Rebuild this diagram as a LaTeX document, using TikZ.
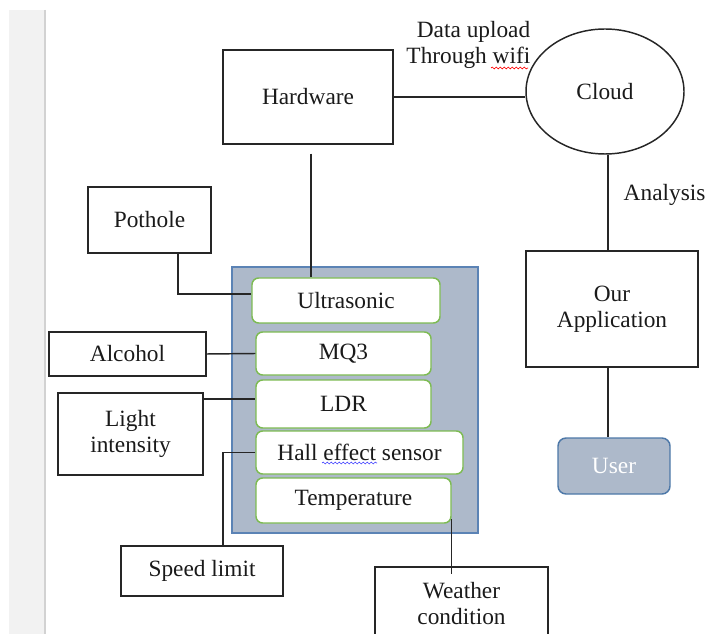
\documentclass[tikz,border=0pt]{standalone}
\usepackage{fontspec}
\setmainfont{Liberation Serif}
\usetikzlibrary{decorations.pathmorphing,shapes.geometric}
\definecolor{panelfill}{HTML}{ADB9CA}
\definecolor{panelline}{HTML}{5B83B5}
\definecolor{userline}{HTML}{4D78A8}
\definecolor{sgreen}{HTML}{7DBB52}
\definecolor{margfill}{HTML}{F2F2F2}
\definecolor{margline}{HTML}{D2D2D2}
\definecolor{txt}{HTML}{1A1A1A}
\begin{document}
\begin{tikzpicture}[x=0.75pt,y=-0.75pt,
  font=\fontsize{17.5}{19.5}\selectfont, text=txt,
  line width=1.1pt,
  plainbox/.style={draw=black!85, rectangle, line width=1.1pt, inner sep=0pt, align=center},
  sensor/.style={draw=sgreen, fill=white, rounded corners=5pt, line width=1.1pt, inner sep=0pt, align=center},
  wire/.style={draw=black!85, line width=1.1pt},
  squig/.style={line width=0.5pt, decorate, decoration={snake, amplitude=0.7pt, segment length=3pt}}]
\useasboundingbox (0,0) rectangle (706,634);
% left margin of the page
\fill[margfill] (9,10) rectangle (45,634);
\draw[margline, line width=1.5pt] (45,10) -- (45,634);

% top row
\node[plainbox, minimum width=127.5pt, minimum height=70.5pt] (hw) at (308,97) {Hardware};
\node[draw=black!85, ellipse, line width=1.1pt, inner sep=0pt, minimum width=118.5pt, minimum height=93.75pt] (cloud) at (605,91.5) {Cloud};
\node[anchor=east, align=right, inner sep=0pt] (upl) at (531,45) {Data upload\\Through wifi};
\draw[red, squig] (491,68) -- (528,68);

% right column
\node[plainbox, minimum width=129pt, minimum height=87pt] (app) at (612,309) {Our\\Application};
\node[draw=userline, fill=panelfill, rounded corners=6pt, line width=1.1pt, minimum width=84pt, minimum height=42pt, inner sep=0pt, text=white] (user) at (614,466) {User};
\node[anchor=west, inner sep=0pt] (ana) at (623,195) {Analysis};

% sensor panel
\node[draw=panelline, fill=panelfill, line width=0.8pt, minimum width=184.5pt, minimum height=199.5pt, inner sep=0pt] (panel) at (355,400) {};
\node[sensor, minimum width=141pt, minimum height=33.75pt] (us) at (346,300.5) {Ultrasonic};
\node[sensor, minimum width=131.25pt, minimum height=32.25pt] (mq) at (343.5,353.5) {MQ3};
\node[sensor, minimum width=131.25pt, minimum height=36pt] (ldr) at (343.5,404) {LDR};
\node[sensor, minimum width=155.25pt, minimum height=32.25pt] (hall) at (359.5,452.5) {Hall effect sensor};
\node[sensor, minimum width=146.25pt, minimum height=33.75pt] (tp) at (353.5,500.5) {Temperature};
\draw[blue!70, squig] (322,463) -- (377,463);

% outer labels
\node[plainbox, minimum width=92.25pt, minimum height=49.5pt] (pot) at (149.5,220) {Pothole};
\node[plainbox, minimum width=117.75pt, minimum height=33pt] (alc) at (127.5,354) {Alcohol};
\node[plainbox, minimum width=108.75pt, minimum height=61.5pt] (lit) at (130.5,434) {Light\\intensity};
\node[plainbox, minimum width=121.5pt, minimum height=37.5pt] (spd) at (202,571) {Speed limit};
\node[plainbox, minimum width=129.75pt, minimum height=55.5pt] (wc) at (461.5,604) {Weather\\condition};

% helper coordinates for the connector routes
\coordinate (hwx) at (311,0);
\coordinate (cx) at (608,0);
\coordinate (pc) at (178,294);
\coordinate (ly) at (0,399);
\coordinate (hx) at (223,0);
\coordinate (ty) at (0,519);

% connectors
\draw[wire] (hw.east) -- (hw.east -| cloud.west);
\draw[wire] (cx |- cloud.south) -- (cx |- app.north);
\draw[wire] (cx |- app.south) -- (cx |- user.north);
\draw[wire, shorten <=6.75pt] (hwx |- hw.south) -- (hwx |- us.north);
\draw[wire] (pot.south -| pc) |- (us.west |- pc);
\draw[wire] (alc.east) -- (mq.west);
\draw[wire] (lit.east |- ly) -- (ldr.west |- ly);
\draw[wire] (hall.west) -| (spd.north -| hx);
\draw[wire, shorten >=-6pt] (tp.east |- ty) -- (wc.north -| tp.east);
\end{tikzpicture}
\end{document}
